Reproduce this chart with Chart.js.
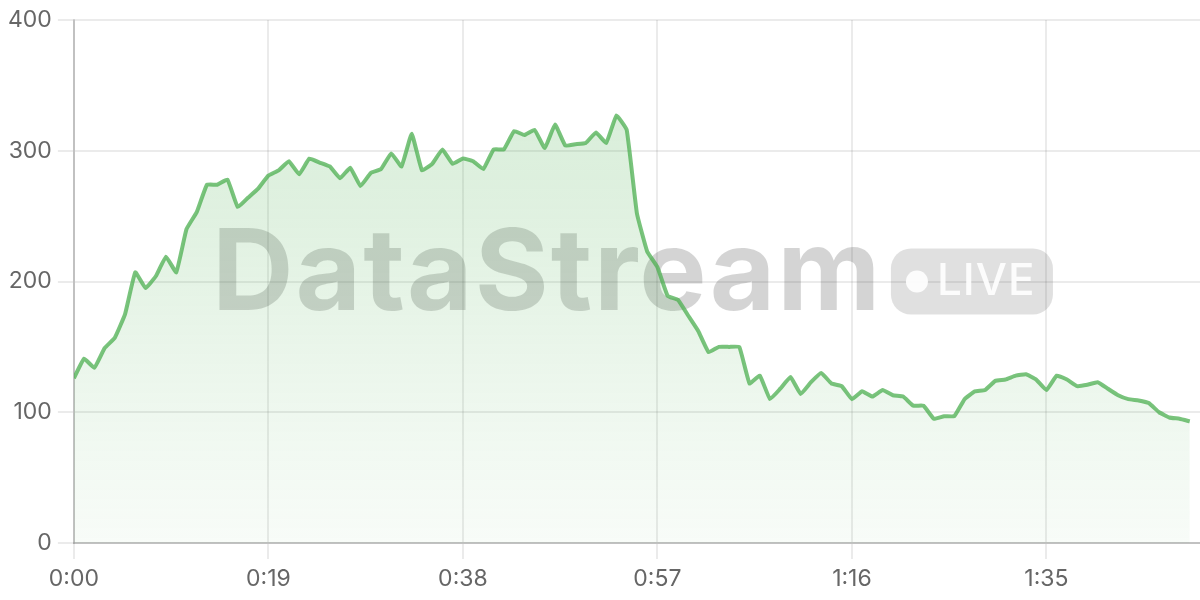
<!DOCTYPE html>
<html>
<head>
<meta charset="utf-8">
<script src="https://cdn.jsdelivr.net/npm/chart.js@4/dist/chart.umd.min.js"></script>
<style>
  html, body { margin: 0; padding: 0; background: #ffffff; }
  #wrap { width: 1200px; height: 600px; position: relative; }
</style>
</head>
<body>
<div id="wrap"><canvas id="c"></canvas></div>
<script>
// Seconds since start (one sample per second)
const seconds = Array.from({ length: 110 }, (_, i) => i);

// Series values
const values = [
  126, 141, 134, 149, 157, 175, 207, 195, 204, 219,
  207, 240, 253, 274, 274, 278, 257, 264, 271, 281,
  285, 292, 282, 294, 291, 288, 279, 287, 273, 283,
  286, 298, 288, 313, 285, 290, 301, 290, 294, 292,
  286, 301, 301, 315, 312, 316, 302, 320, 304, 305,
  306, 314, 306, 327, 316, 252, 223, 211, 189, 186,
  174, 162, 146, 150, 150, 150, 122, 128, 110, 118,
  127, 114, 123, 130, 122, 120, 110, 116, 112, 117,
  113, 112, 105, 105, 95, 97, 97, 110, 116, 117,
  124, 125, 128, 129, 125, 117, 128, 125, 120, 121,
  123, 118, 113, 110, 109, 107, 100, 96, 95, 93
];

// Tick labels
const xTickValues = [0, 19, 38, 57, 76, 95];
const xTickLabels = ['0:00', '0:19', '0:38', '0:57', '1:16', '1:35'];
const xMax = 110;
const yTickValues = [0, 100, 200, 300, 400];

const watermark = {
  id: 'watermark',
  beforeDatasetsDraw(chart) {
    const { ctx, chartArea } = chart;
    const cx = (chartArea.left + chartArea.right) / 2 - 4.5;
    const cy = (chartArea.top + chartArea.bottom) / 2;
    const groupW = 841, badgeOffset = 679, badgeW = 162, badgeH = 66, radius = 20;
    const x0 = cx - groupW / 2;
    ctx.save();
    ctx.font = 'bold 113px Inter';
    ctx.letterSpacing = '2px';
    ctx.fillStyle = 'rgba(0,0,0,0.17)';
    ctx.textBaseline = 'alphabetic';
    ctx.textAlign = 'left';
    ctx.fillText('DataStream', x0, cy + 28.5);
    ctx.letterSpacing = '0px';
    const bx = x0 + badgeOffset;
    const by = cy - badgeH / 2;
    ctx.fillStyle = 'rgba(0,0,0,0.12)';
    ctx.beginPath();
    ctx.roundRect(bx, by, badgeW, badgeH, radius);
    ctx.fill();
    ctx.fillStyle = 'rgba(255,255,255,0.9)';
    ctx.beginPath();
    ctx.arc(bx + 26, cy, 11, 0, Math.PI * 2);
    ctx.fill();
    ctx.font = '500 44px Inter';
    ctx.letterSpacing = '1px';
    ctx.fillText('LIVE', bx + 46, cy + 13.5);
    ctx.restore();
  }
};

new Chart(document.getElementById('c'), {
  type: 'line',
  data: {
    labels: seconds,
    datasets: [{
      data: values,
      borderColor: 'rgba(76,175,80,0.75)',
      borderWidth: 4,
      pointRadius: 0,
      tension: 0.1,
      fill: 'origin',
      backgroundColor(context) {
        const { chart } = context;
        const area = chart.chartArea;
        if (!area) return 'rgba(76,175,80,0.15)';
        const g = chart.ctx.createLinearGradient(0, area.top, 0, area.bottom);
        g.addColorStop(0, 'rgba(76,175,80,0.25)');
        g.addColorStop(1, 'rgba(76,175,80,0.04)');
        return g;
      }
    }]
  },
  options: {
    responsive: true,
    maintainAspectRatio: false,
    animation: false,
    layout: { padding: { top: 20, left: 2, right: 0, bottom: 0 } },
    plugins: { legend: { display: false }, tooltip: { enabled: false } },
    scales: {
      x: {
        type: 'linear',
        min: 0,
        max: xMax,
        afterBuildTicks(scale) {
          scale.ticks = xTickValues.map(v => ({ value: v }));
        },
        ticks: {
          font: { family: 'Inter', size: 23, lineHeight: 1.0 },
          color: '#666',
          padding: 9,
          maxRotation: 0,
          autoSkip: false,
          callback(v) {
            const i = xTickValues.indexOf(v);
            return i >= 0 ? xTickLabels[i] : '';
          }
        },
        grid: { color: 'rgba(0,0,0,0.08)', lineWidth: 2, tickLength: 16 },
        border: { color: 'rgba(0,0,0,0.18)', width: 2 }
      },
      y: {
        min: 0,
        max: 400,
        afterBuildTicks(scale) {
          scale.ticks = yTickValues.map(v => ({ value: v }));
        },
        ticks: { font: { family: 'Inter', size: 23 }, color: '#666', padding: 6 },
        grid: { color: 'rgba(0,0,0,0.08)', lineWidth: 2, tickLength: 16 },
        border: { color: 'rgba(0,0,0,0.18)', width: 2 }
      }
    }
  },
  plugins: [watermark]
});
</script>
</body>
</html>
